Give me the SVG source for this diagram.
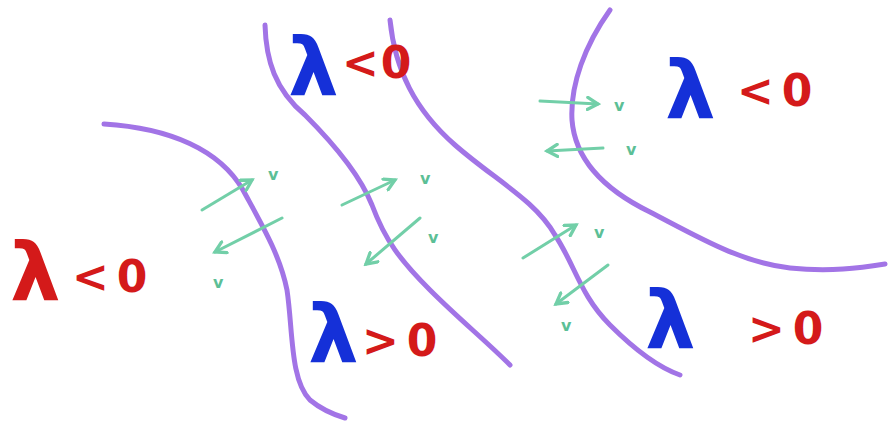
<svg xmlns="http://www.w3.org/2000/svg" width="888" height="431" viewBox="0 0 888 431">
<style>
.curve{fill:none;stroke:#a274e6;stroke-width:5;stroke-linecap:round;stroke-linejoin:round}
.arr{fill:none;stroke:#72cfa8;stroke-width:3;stroke-linecap:round}
.v{font-family:"DejaVu Sans",sans-serif;font-size:16px;font-weight:bold;fill:#5cbf96}
.lam{font-family:"DejaVu Sans",sans-serif;font-weight:bold;font-size:80px}
.rel{font-family:"DejaVu Sans",sans-serif;font-weight:bold;font-size:44px;fill:#d41a1a;letter-spacing:8px}
.blue{fill:#1530d8}
.red{fill:#d41a1a}
</style>
<defs>
<marker id="ah" viewBox="0 0 10 10" refX="8" refY="5" markerWidth="5" markerHeight="5" orient="auto">
<path d="M1,1 L8,5 L1,9" fill="none" stroke="#72cfa8" stroke-width="2.2" stroke-linecap="round"/>
</marker>
</defs>
<rect width="888" height="431" fill="#ffffff"/>
<g id="connectors">
<path class="curve" d="M104,124 C170,128 220,150 243,190 C262,225 280,255 287,290 C293,330 290,380 310,400 C322,410 335,415 345,418"/>
<path class="curve" d="M265,25 C266,60 275,90 305,115 C335,145 360,175 372,205 C385,240 400,260 430,290 C460,320 485,340 510,365"/>
<path class="curve" d="M390,20 C395,70 415,110 455,145 C495,180 535,200 555,235 C575,265 580,295 610,325 C635,350 660,368 680,375"/>
<path class="curve" d="M610,10 C585,45 570,85 572,120 C575,160 605,190 650,212 C700,238 740,262 790,268 C830,272 860,268 885,264"/>
<path class="arr" marker-end="url(#ah)" d="M202,210 L252,180"/>
<path class="arr" marker-end="url(#ah)" d="M282,218 L215,252"/>
<path class="arr" marker-end="url(#ah)" d="M342,205 L395,180"/>
<path class="arr" marker-end="url(#ah)" d="M420,218 L366,264"/>
<path class="arr" marker-end="url(#ah)" d="M523,258 L576,225"/>
<path class="arr" marker-end="url(#ah)" d="M608,265 L556,304"/>
<path class="arr" marker-end="url(#ah)" d="M540,101 L598,104"/>
<path class="arr" marker-end="url(#ah)" d="M603,148 L547,151"/>
</g>
<g id="vlabels">
<text class="v" x="268" y="180">v</text>
<text class="v" x="213" y="288">v</text>
<text class="v" x="420" y="184">v</text>
<text class="v" x="428" y="243">v</text>
<text class="v" x="594" y="238">v</text>
<text class="v" x="561" y="331">v</text>
<text class="v" x="614" y="111">v</text>
<text class="v" x="626" y="155">v</text>
</g>
<g id="region-left">
<text class="lam red" x="10" y="300">λ</text>
<text class="rel" x="72" y="292">&lt;0</text>
</g>
<g id="region-top-middle">
<text class="lam blue" x="288" y="95">λ</text>
<text class="rel" x="342" y="78" font-size="36" style="letter-spacing:2px">&lt;0</text>
</g>
<g id="region-top-right">
<text class="lam blue" x="665" y="118">λ</text>
<text class="rel" x="737" y="106">&lt;0</text>
</g>
<g id="region-bottom-middle">
<text class="lam blue" x="308" y="362">λ</text>
<text class="rel" x="362" y="356">&gt;0</text>
</g>
<g id="region-bottom-right">
<text class="lam blue" x="645" y="348">λ</text>
<text class="rel" x="748" y="344">&gt;0</text>
</g>
</svg>
